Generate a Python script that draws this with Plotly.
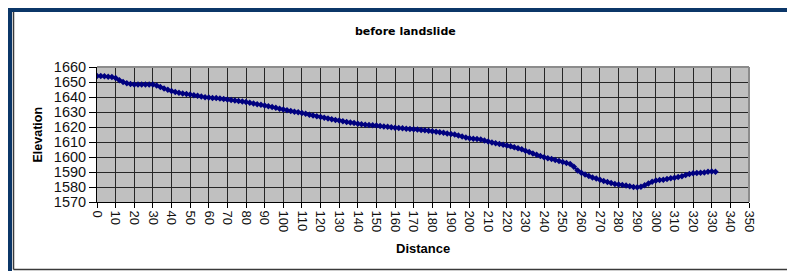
import plotly.graph_objects as go

# ---- data ----
distance = list(range(0, 334, 2))
elevation = [
    1654.0, 1654.0, 1653.8, 1653.5, 1653.3, 1652.6, 1651.2, 1650.0, 1649.1, 1648.6,
    1648.4, 1648.3, 1648.3, 1648.4, 1648.3, 1648.3, 1647.6, 1646.6, 1645.6, 1644.8,
    1644.0, 1643.3, 1642.8, 1642.3, 1642.0, 1641.6, 1641.2, 1640.8, 1640.3, 1639.9,
    1639.6, 1639.4, 1639.3, 1639.0, 1638.7, 1638.3, 1638.0, 1637.6, 1637.3, 1637.0,
    1636.6, 1636.2, 1635.7, 1635.2, 1634.8, 1634.3, 1633.8, 1633.3, 1632.8, 1632.2,
    1631.7, 1631.2, 1630.7, 1630.2, 1629.8, 1629.3, 1628.8, 1628.2, 1627.7, 1627.2,
    1626.7, 1626.2, 1625.7, 1625.2, 1624.7, 1624.3, 1623.8, 1623.3, 1623.0, 1622.6,
    1622.2, 1621.8, 1621.5, 1621.3, 1621.1, 1621.0, 1620.7, 1620.4, 1620.1, 1619.8,
    1619.5, 1619.3, 1619.1, 1618.9, 1618.7, 1618.5, 1618.3, 1618.0, 1617.8, 1617.5,
    1617.2, 1616.9, 1616.5, 1616.1, 1615.7, 1615.3, 1615.0, 1614.4, 1613.7, 1613.0,
    1612.5, 1612.2, 1612.0, 1611.6, 1611.0, 1610.3, 1609.6, 1609.1, 1608.7, 1608.2,
    1607.7, 1607.1, 1606.5, 1605.9, 1605.1, 1604.2, 1603.3, 1602.4, 1601.5, 1600.6,
    1599.8, 1599.2, 1598.6, 1598.0, 1597.3, 1596.6, 1596.0, 1595.3, 1593.5, 1591.0,
    1589.5, 1588.3, 1587.3, 1586.4, 1585.6, 1584.8, 1584.0, 1583.3, 1582.6, 1582.0,
    1581.6, 1581.3, 1581.0, 1580.5, 1580.0, 1579.8, 1580.2, 1581.2, 1582.3, 1583.5,
    1584.3, 1584.6, 1584.8, 1585.3, 1585.8, 1586.2, 1586.6, 1587.2, 1588.0, 1588.7,
    1589.2, 1589.4, 1589.5, 1589.7, 1590.1, 1590.3, 1590.2,
]
x_ticks = list(range(0, 360, 10))
y_ticks = list(range(1570, 1670, 10))

title_text = "before landslide"
x_title = "Distance"
y_title = "Elevation"

# ---- layout geometry (window pixels; body margin removed) ----
W, H = 787, 271
L, T = 97, 67
R = W - 749
B = H - 202
PW, PH = W - L - R, H - T - B


def px(p):
    return (p - L) / PW


def py(p):
    return (H - B - p) / PH


fig = go.Figure()
fig.add_trace(go.Scatter(
    x=distance, y=elevation, mode="lines+markers",
    line=dict(color="#000080", width=2),
    marker=dict(symbol="diamond", size=5, color="#000080"),
    showlegend=False, hoverinfo="skip",
))

navy = "#0b3668"
shapes = [
    dict(type="rect", xref="paper", yref="paper", x0=px(8), x1=px(787), y0=py(12), y1=py(8),
         fillcolor=navy, line=dict(width=0), layer="above"),
    dict(type="rect", xref="paper", yref="paper", x0=px(8), x1=px(12), y0=py(271), y1=py(8),
         fillcolor=navy, line=dict(width=0), layer="above"),
    dict(type="line", xref="paper", yref="paper", x0=px(13.5), x1=px(13.5), y0=py(269.5), y1=py(12),
         line=dict(color="#3a3a3a", width=1.5), layer="above"),
    dict(type="line", xref="paper", yref="paper", x0=px(13.5), x1=px(787), y0=py(269.5), y1=py(269.5),
         line=dict(color="#3a3a3a", width=1.5), layer="above"),
    # plot-area border (top and right), gray as in the reference
    dict(type="line", xref="paper", yref="paper", x0=0, x1=1, y0=1, y1=1,
         line=dict(color="#8c8c8c", width=2), layer="above"),
    dict(type="line", xref="paper", yref="paper", x0=1, x1=1, y0=0, y1=1,
         line=dict(color="#8c8c8c", width=2), layer="above"),
]

annotations = [
    dict(text="<b>%s</b>" % title_text, xref="paper", yref="paper", x=px(405), y=py(31),
         xanchor="center", yanchor="middle", showarrow=False,
         font=dict(family="DejaVu Sans", size=11, color="#000")),
    dict(text="<b>%s</b>" % x_title, xref="paper", yref="paper", x=px(423), y=py(248),
         xanchor="center", yanchor="middle", showarrow=False,
         font=dict(family="Liberation Sans, Arial", size=13, color="#000")),
    dict(text="<b>%s</b>" % y_title, xref="paper", yref="paper", x=px(37.5), y=py(135),
         xanchor="center", yanchor="middle", showarrow=False, textangle=-90,
         font=dict(family="Liberation Sans, Arial", size=12.5, color="#000")),
]

fig.update_layout(
    width=W, height=H,
    margin=dict(l=L, r=R, t=T, b=B, pad=0),
    paper_bgcolor="white", plot_bgcolor="#c0c0c0",
    shapes=shapes, annotations=annotations,
    xaxis=dict(
        range=[0, 350], tickvals=x_ticks, ticktext=[str(v) for v in x_ticks],
        tickangle=90, ticks="outside", ticklen=5, tickcolor="#000", tickwidth=1,
        showline=True, linecolor="#000", linewidth=1,
        showgrid=True, gridcolor="#262626", gridwidth=1, zeroline=False,
        tickfont=dict(family="Liberation Sans, Arial", size=13, color="#111"),
        fixedrange=True,
    ),
    yaxis=dict(
        range=[1570, 1660], tickvals=y_ticks, ticktext=[str(v) for v in y_ticks],
        ticks="outside", ticklen=7, tickcolor="#000", tickwidth=1,
        showline=True, linecolor="#000", linewidth=1,
        showgrid=True, gridcolor="#262626", gridwidth=1, zeroline=False,
        tickfont=dict(family="Liberation Sans, Arial", size=14.5, color="#111"),
        fixedrange=True,
    ),
)

post = (
    "document.documentElement.style.margin='0px';"
    "document.documentElement.style.overflow='hidden';"
    "document.body.style.margin='0px';"
    "document.body.style.padding='0px';"
    "document.body.style.overflow='hidden';"
    "var s=document.createElement('style');"
    "s.textContent='::-webkit-scrollbar{display:none;width:0;height:0}html,body{margin:0;overflow:hidden}';"
    "document.head.appendChild(s);"
)

fig.write_html("out.html", config=dict(displayModeBar=False), post_script=post)
